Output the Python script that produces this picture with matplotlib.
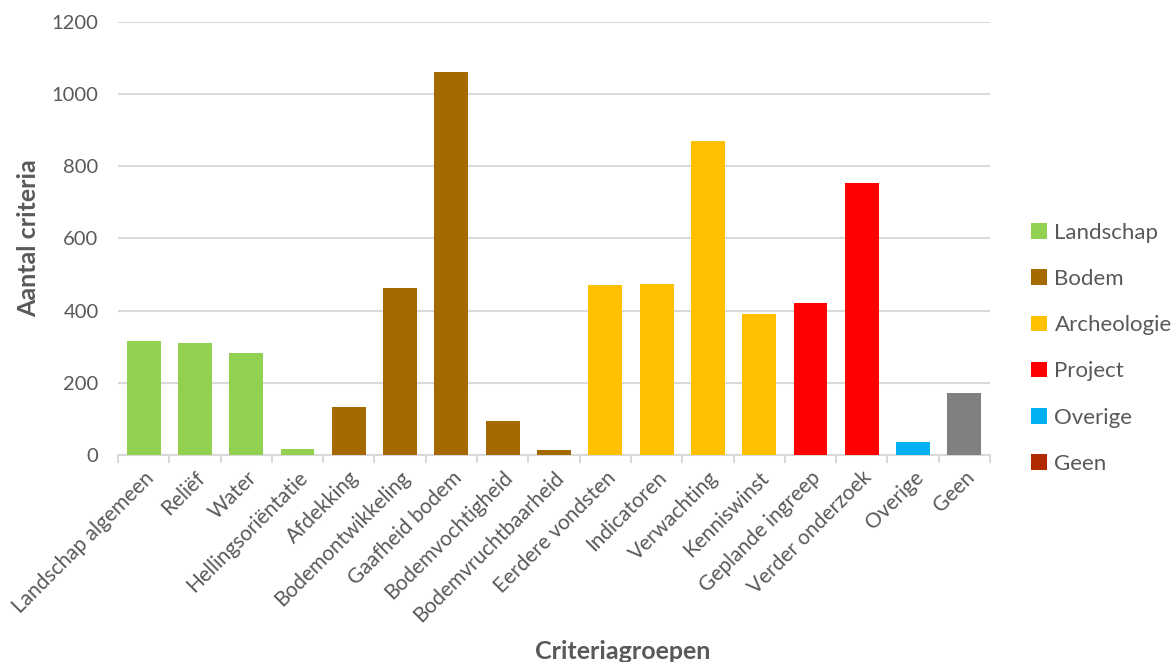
import matplotlib.pyplot as plt
import numpy as np
from matplotlib.patches import Patch
from matplotlib import rcParams

rcParams["font.family"] = ["Lato", "DejaVu Sans"]

# Data
categories = [
    "Landschap algemeen", "Reliëf", "Water", "Hellingsoriëntatie",
    "Afdekking", "Bodemontwikkeling", "Gaafheid bodem", "Bodemvochtigheid",
    "Bodemvruchtbaarheid", "Eerdere vondsten", "Indicatoren", "Verwachting",
    "Kenniswinst", "Geplande ingreep", "Verder onderzoek", "Overige", "Geen",
]
values = [317, 309, 282, 17, 134, 463, 1060, 94, 15, 470, 473, 870, 390, 420, 755, 35, 173]
groups = [
    "Landschap", "Landschap", "Landschap", "Landschap",
    "Bodem", "Bodem", "Bodem", "Bodem", "Bodem",
    "Archeologie", "Archeologie", "Archeologie", "Archeologie",
    "Project", "Project", "Overige", "Geen",
]
legend_groups = ["Landschap", "Bodem", "Archeologie", "Project", "Overige", "Geen"]

group_colors = {
    "Landschap": "#92D050",
    "Bodem": "#A46A00",
    "Archeologie": "#FFC000",
    "Project": "#FF0000",
    "Overige": "#00B0F0",
    "Geen": "#B22A00",
}
# the "Geen" bar itself is grey in the original, only its legend key is dark red
bar_colors = [group_colors[g] if g != "Geen" else "#808080" for g in groups]

text_color = "#595959"
grid_color = "#D9D9D9"

fig = plt.figure(figsize=(11.73, 6.62), dpi=100)
ax = fig.add_axes([0.1006, 0.3127, 0.7434, 0.6541])

x = np.arange(len(categories))
ax.bar(x, values, width=0.66, color=bar_colors, zorder=3)

ax.set_xlim(-0.5, len(categories) - 0.5)
ax.set_ylim(0, 1200)
ax.set_yticks(np.arange(0, 1201, 200))
ax.yaxis.grid(True, color=grid_color, linewidth=1.5, zorder=0)
ax.tick_params(axis="y", length=0, labelsize=14.5, labelcolor=text_color, pad=14)

# category labels at bar centres, tick marks at category boundaries
ax.set_xticks(x)
ax.set_xticklabels(categories, rotation=45, ha="right", rotation_mode="anchor",
                   fontsize=15, color=text_color)
ax.tick_params(axis="x", length=0, pad=9)
ax.set_xticks(np.arange(-0.5, len(categories), 1), minor=True)
ax.tick_params(axis="x", which="minor", length=6, width=1.5, color=grid_color)

for side in ["top", "right", "left"]:
    ax.spines[side].set_visible(False)
ax.spines["bottom"].set_color(grid_color)
ax.spines["bottom"].set_linewidth(1.5)

ax.set_ylabel("Aantal criteria", fontsize=18, fontweight="bold", color=text_color, labelpad=8)
fig.text(0.531, 0.004, "Criteriagroepen", fontsize=18, fontweight="bold",
         color=text_color, ha="center", va="baseline")

handles = [Patch(facecolor=group_colors[g], edgecolor="none") for g in legend_groups]
fig.legend(handles, legend_groups, loc="center left", bbox_to_anchor=(0.862, 0.474),
           frameon=False, fontsize=16, labelcolor=text_color,
           handlelength=0.7, handleheight=0.7, handletextpad=0.35, labelspacing=1.18)

fig.savefig("out.png", dpi=100)
